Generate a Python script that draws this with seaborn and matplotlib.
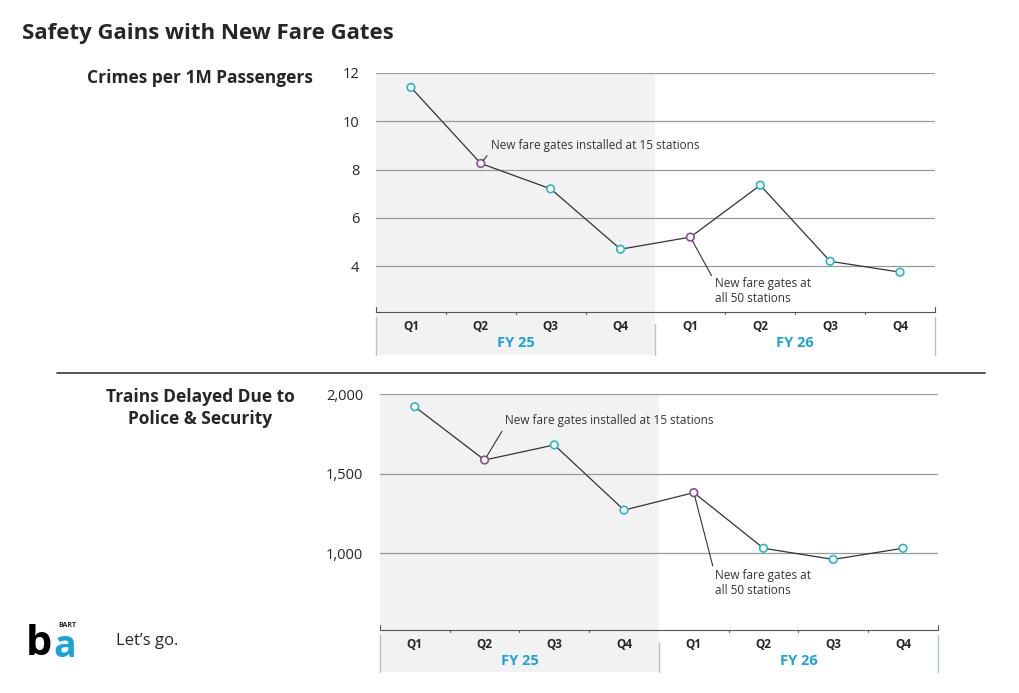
import matplotlib
matplotlib.use("Agg")
import matplotlib.pyplot as plt
import seaborn as sns
import pandas as pd
import matplotlib.transforms as mtrans
from matplotlib.patches import Rectangle

sns.set_style("white")
plt.rcParams['font.family'] = ['Open Sans', 'DejaVu Sans']

quarters = ["Q1", "Q2", "Q3", "Q4", "Q1", "Q2", "Q3", "Q4"]
fiscal_years = ["FY 25", "FY 26"]
crimes = [11.4, 8.25, 7.2, 4.7, 5.2, 7.35, 4.2, 3.75]
delays = [1920, 1585, 1680, 1270, 1380, 1030, 960, 1030]
highlight = [False, True, False, False, True, False, False, False]

CYAN = "#2bb5c9"
PURPLE = "#8a4f8f"
BLUE = "#1aa3d9"

fig = plt.figure(figsize=(10.2, 6.93), dpi=100)
fig.text(0.022, 0.952, "Safety Gains with New Fare Gates", fontsize=16, fontweight="bold", ha="left", va="center")

def panel(rect, vals, ylim, yticks, yticklabels, title, title_xy, ann1, ann2):
    ax = fig.add_axes(rect)
    df = pd.DataFrame({"x": range(8), "y": vals, "h": highlight})
    ax.set_xlim(-0.5, 7.5)
    ax.set_ylim(*ylim)
    for t in yticks:
        ax.axhline(t, color="#999999", lw=0.9, zorder=0)
    ax.axvspan(-0.5, 3.5, color="#f2f2f3", zorder=-1, lw=0)
    tr = mtrans.blended_transform_factory(ax.transData, ax.transAxes)
    ax.add_patch(Rectangle((-0.5, -0.18), 4, 0.18, transform=tr, color="#f2f2f3", clip_on=False, zorder=-1, lw=0))
    for xs in [-0.5, 3.5, 7.5]:
        ax.plot([xs, xs], [-0.02, -0.18] if xs != 3.5 else [-0.05, -0.18], transform=tr, color="#a9c6d8", lw=1, clip_on=False)
    for xs in [0.5, 1.5, 2.5, 4.5, 5.5, 6.5]:
        ax.plot([xs, xs], [0, -0.008], transform=tr, color="#555", lw=0.8, clip_on=False)
    for xs in [-0.5, 7.5]:
        ax.plot([xs, xs], [0, 0.02], transform=tr, color="#555", lw=0.8, clip_on=False)
    sns.lineplot(data=df, x="x", y="y", ax=ax, color="#333333", lw=0.9, zorder=2)
    sns.scatterplot(data=df, x="x", y="y", hue="h", palette={False: CYAN, True: PURPLE}, ax=ax,
                    s=30, facecolor="white", linewidth=1.2, legend=False, zorder=3)
    for c in ax.collections:
        c.set_facecolor("white")
        c.set_edgecolors([PURPLE if h else CYAN for h in highlight])
    ax.set_yticks(yticks)
    ax.set_yticklabels(yticklabels, fontsize=10.5)
    ax.set_xticks(range(8))
    ax.set_xticklabels(quarters, fontsize=8.5, fontweight="bold")
    ax.tick_params(axis="both", length=0, pad=6)
    ax.tick_params(axis="y", pad=12)
    ax.set_xlabel(""); ax.set_ylabel("")
    for s in ["top", "right", "left"]:
        ax.spines[s].set_visible(False)
    ax.spines["bottom"].set_color("#555")
    ax.spines["bottom"].set_linewidth(0.8)
    ax.text(1.5, -0.13, fiscal_years[0], transform=tr, ha="center", va="center", color=BLUE, fontsize=10.5, fontweight="bold")
    ax.text(5.5, -0.13, fiscal_years[1], transform=tr, ha="center", va="center", color=BLUE, fontsize=10.5, fontweight="bold")
    fig.text(title_xy[0], title_xy[1], title, ha="center", va="center", fontsize=12.5, fontweight="bold", linespacing=1.3)
    ax.annotate("New fare gates installed at 15 stations", xy=(1, vals[1]), xytext=ann1,
                fontsize=8.5, va="center", color="#333",
                arrowprops=dict(arrowstyle="-", color="#333", lw=0.8, shrinkA=1, shrinkB=3, relpos=(0, 0.1)))
    ax.annotate("New fare gates at\nall 50 stations", xy=(4, vals[4]), xytext=ann2,
                fontsize=8.5, va="center", color="#333", linespacing=1.2,
                arrowprops=dict(arrowstyle="-", color="#333", lw=0.8, shrinkA=0, shrinkB=3, relpos=(0, 0.85)))
    return ax

panel([0.3686, 0.5498, 0.548, 0.345], crimes, (2.1, 12), [4, 6, 8, 10, 12], ["4", "6", "8", "10", "12"],
      "Crimes per 1M Passengers", (0.196, 0.887), (1.15, 9.0), (4.35, 2.95))
panel([0.3725, 0.0909, 0.547, 0.3405], delays, (516, 2000), [1000, 1500, 2000], ["1,000", "1,500", "2,000"],
      "Trains Delayed Due to\nPolice & Security", (0.196, 0.411), (1.3, 1835), (4.3, 810))

fig.add_artist(plt.Line2D([0.056, 0.966], [0.462, 0.462], color="#333", lw=1.2, transform=fig.transFigure))

# logo
fig.text(0.025, 0.07, "b", fontsize=30, fontweight="bold", color="black", ha="left", va="center")
fig.text(0.052, 0.066, "a", fontsize=27, fontweight="bold", color="#1aa3d9", ha="left", va="center")
fig.text(0.057, 0.098, "BART", fontsize=5, fontweight="bold", ha="left", va="center")
fig.text(0.114, 0.075, "Let’s go.", fontsize=12, ha="left", va="center")

fig.savefig("out.png", dpi=100, facecolor="white")
